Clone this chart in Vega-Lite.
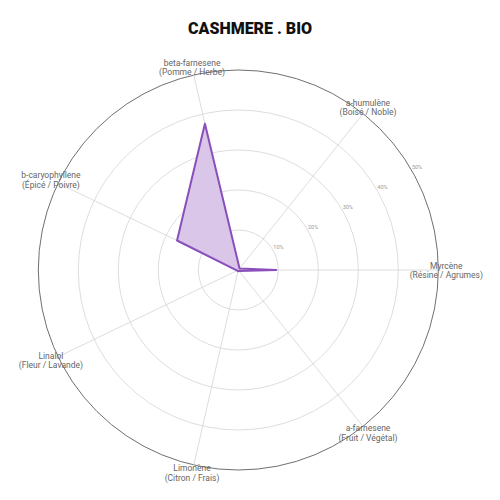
{
  "$schema": "https://vega.github.io/schema/vega-lite/v6.json",
  "width": 500,
  "height": 455,
  "autosize": {"type": "none"},
  "padding": {"top": 45, "left": 0, "right": 0, "bottom": 0},
  "background": "white",
  "config": {"view": {"stroke": null}},
  "title": {
    "text": "CASHMERE . BIO",
    "font": "Roboto",
    "fontSize": 16,
    "fontWeight": 900,
    "color": "#111111",
    "anchor": "middle",
    "frame": "group",
    "baseline": "alphabetic",
    "offset": 12,
    "dy": 17
  },
  "datasets": {
    "terps": [
      {"terpene": "Myrcène", "aroma": "(Résine / Agrumes)", "idx": 0, "value": 9.5},
      {"terpene": "a-humulène", "aroma": "(Boisé / Noble)", "idx": 1, "value": 0.5},
      {"terpene": "beta-farnesene", "aroma": "(Pomme / Herbe)", "idx": 2, "value": 37.5},
      {"terpene": "b-caryophyllene", "aroma": "(Épicé / Poivre)", "idx": 3, "value": 17},
      {"terpene": "Linalol", "aroma": "(Fleur / Lavande)", "idx": 4, "value": 0.3},
      {"terpene": "Limonène", "aroma": "(Citron / Frais)", "idx": 5, "value": 0.3},
      {"terpene": "a-farnesene", "aroma": "(Fruit / Végétal)", "idx": 6, "value": 0.3}
    ],
    "rings": [{"pct": 10}, {"pct": 20}, {"pct": 30}, {"pct": 40}, {"pct": 50}]
  },
  "layer": [
    {
      "data": {"name": "rings"},
      "mark": {"type": "arc", "theta": 0, "theta2": 6.2832, "fillOpacity": 0, "strokeWidth": 0.8},
      "encoding": {
        "x": {"datum": 0, "type": "quantitative", "scale": {"domain": [-59.575, 65.425], "nice": false, "zero": false}, "axis": null},
        "y": {"datum": 0, "type": "quantitative", "scale": {"domain": [-57.5, 56.25], "nice": false, "zero": false}, "axis": null},
        "radius": {"field": "pct", "type": "quantitative", "stack": null, "scale": {"type": "linear", "domain": [0, 50], "range": [0, 200], "zero": true}, "legend": null},
        "stroke": {"condition": {"test": "datum.pct == 50", "value": "#4a4a4a"}, "value": "#d4d4d4"}
      }
    },
    {
      "data": {"name": "terps"},
      "transform": [
        {"calculate": "datum.idx * 2 * PI / 7", "as": "ang"},
        {"calculate": "50 * cos(datum.ang)", "as": "ex"},
        {"calculate": "50 * sin(datum.ang)", "as": "ey"},
        {"calculate": "0", "as": "cx"}
      ],
      "mark": {"type": "rule", "stroke": "#d4d4d4", "strokeWidth": 0.8},
      "encoding": {
        "x": {"field": "cx", "type": "quantitative", "scale": {"domain": [-59.575, 65.425], "nice": false, "zero": false}, "axis": null},
        "y": {"field": "cx", "type": "quantitative", "scale": {"domain": [-57.5, 56.25], "nice": false, "zero": false}, "axis": null},
        "x2": {"field": "ex"},
        "y2": {"field": "ey"}
      }
    },
    {
      "data": {"name": "terps"},
      "transform": [
        {"calculate": "datum.idx * 2 * PI / 7", "as": "ang"},
        {"calculate": "datum.value * cos(datum.ang)", "as": "px"},
        {"calculate": "datum.value * sin(datum.ang)", "as": "py"}
      ],
      "mark": {"type": "line", "interpolate": "linear-closed", "fill": "#d9c6e8", "stroke": "#8a4fbb", "strokeWidth": 2, "strokeJoin": "round"},
      "encoding": {
        "x": {"field": "px", "type": "quantitative", "scale": {"domain": [-59.575, 65.425], "nice": false, "zero": false}, "axis": null},
        "y": {"field": "py", "type": "quantitative", "scale": {"domain": [-57.5, 56.25], "nice": false, "zero": false}, "axis": null},
        "order": {"field": "idx", "type": "quantitative"}
      }
    },
    {
      "data": {"name": "rings"},
      "transform": [
        {"calculate": "(datum.pct + 1.6) * cos(PI / 6)", "as": "tx"},
        {"calculate": "(datum.pct + 1.6) * sin(PI / 6)", "as": "ty"},
        {"calculate": "datum.pct + '%'", "as": "tl"}
      ],
      "mark": {"type": "text", "font": "Roboto", "fontSize": 5.5, "fill": "#9a9a9a", "align": "center", "baseline": "middle"},
      "encoding": {
        "x": {"field": "tx", "type": "quantitative", "scale": {"domain": [-59.575, 65.425], "nice": false, "zero": false}, "axis": null},
        "y": {"field": "ty", "type": "quantitative", "scale": {"domain": [-57.5, 56.25], "nice": false, "zero": false}, "axis": null},
        "text": {"field": "tl", "type": "nominal"}
      }
    },
    {
      "data": {"name": "terps"},
      "transform": [
        {"calculate": "datum.idx * 2 * PI / 7", "as": "ang"},
        {"calculate": "52 * cos(datum.ang)", "as": "lx"},
        {"calculate": "52 * sin(datum.ang)", "as": "ly"},
        {"calculate": "datum.terpene + '\\n' + datum.aroma", "as": "lab"}
      ],
      "mark": {"type": "text", "font": "Roboto", "fontSize": 8.5, "fill": "#666666", "align": "center", "baseline": "middle", "lineBreak": "\n", "lineHeight": 9.5, "dy": -4.5},
      "encoding": {
        "x": {"field": "lx", "type": "quantitative", "scale": {"domain": [-59.575, 65.425], "nice": false, "zero": false}, "axis": null},
        "y": {"field": "ly", "type": "quantitative", "scale": {"domain": [-57.5, 56.25], "nice": false, "zero": false}, "axis": null},
        "text": {"field": "lab", "type": "nominal"}
      }
    }
  ]
}
